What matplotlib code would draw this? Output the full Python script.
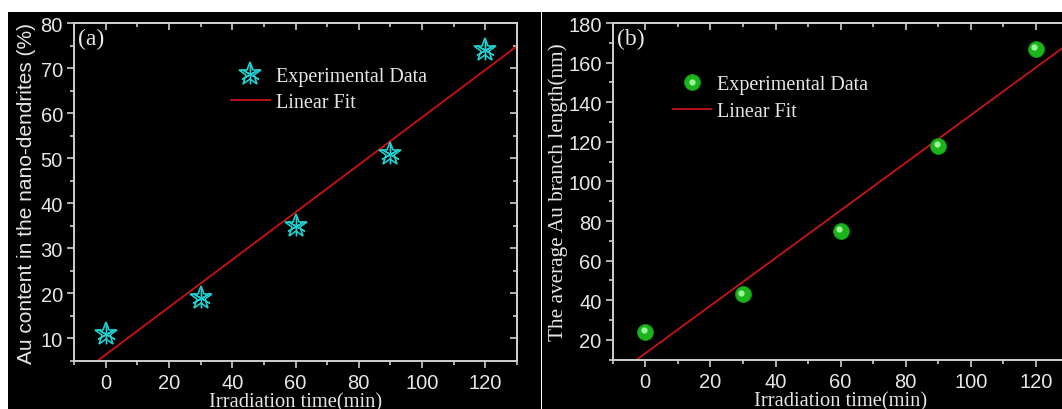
import numpy as np
import matplotlib
matplotlib.use("Agg")
import matplotlib.pyplot as plt
from matplotlib.patches import Rectangle
from matplotlib.ticker import MultipleLocator
from matplotlib.lines import Line2D
from matplotlib.transforms import offset_copy

# ---- data ----
time_min = [0, 30, 60, 90, 120]
au_content = [11, 19, 35, 51, 74]
branch_length = [24, 43, 75, 118, 167]
xticks = [0, 20, 40, 60, 80, 100, 120]

W, H = 1062, 410
fig = plt.figure(figsize=(W / 100, H / 100), dpi=100, facecolor="white")

# black panel backgrounds
for x0, x1 in [(8, 540.5), (541.8, W)]:
    r = Rectangle((x0 / W, 0), (x1 - x0) / W, (H - 13) / H, transform=fig.transFigure,
                  facecolor="black", edgecolor="none", zorder=-10)
    fig.add_artist(r)

SP = "#cfcfcf"
TXT = "#e6e6e6"
SANS = "Liberation Sans"
SERIF = "Liberation Serif"
RED = "#c81414"
CYAN = "#22d0d0"
TICKFS = 14.5


def style(ax, xl, yl, ymaj, ymin):
    ax.set_facecolor("black")
    for s in ax.spines.values():
        s.set_color(SP)
        s.set_linewidth(1.4)
    ax.xaxis.set_major_locator(MultipleLocator(20))
    ax.xaxis.set_minor_locator(MultipleLocator(10))
    ax.yaxis.set_major_locator(MultipleLocator(ymaj))
    ax.yaxis.set_minor_locator(MultipleLocator(ymin))
    ax.set_xlim(*xl)
    ax.set_ylim(*yl)
    ax.tick_params(which="both", direction="out", colors=SP, labelcolor=TXT, width=1.2,
                   labelsize=TICKFS)
    ax.tick_params(axis="x", pad=4)
    ax.tick_params(axis="y", pad=3)
    ax.tick_params(which="major", length=5)
    ax.tick_params(which="minor", length=3)
    for lab in ax.get_xticklabels() + ax.get_yticklabels():
        lab.set_fontfamily(SANS)
    top = ax.secondary_xaxis("top")
    top.xaxis.set_major_locator(MultipleLocator(20))
    top.xaxis.set_minor_locator(MultipleLocator(10))
    top.tick_params(which="both", direction="in", colors=SP, width=1.2, labeltop=False)
    top.tick_params(which="major", length=5)
    top.tick_params(which="minor", length=3)
    top.spines["top"].set_color(SP)
    top.spines["top"].set_linewidth(1.4)
    right = ax.secondary_yaxis("right")
    right.yaxis.set_major_locator(MultipleLocator(ymaj))
    right.yaxis.set_minor_locator(MultipleLocator(ymin))
    right.tick_params(which="both", direction="in", colors=SP, width=1.2, labelright=False)
    right.tick_params(which="major", length=5)
    right.tick_params(which="minor", length=3)
    right.spines["right"].set_color(SP)
    right.spines["right"].set_linewidth(1.4)


# ---- panel (a) ----
ax1 = fig.add_axes([74 / W, (H - 362) / H, (517 - 74) / W, (362 - 24) / H])
style(ax1, (-10, 130), (5, 80), 10, 5)
ax1.set_xticks(xticks)
x = np.array(time_min, dtype=float)
k1, b1 = np.polyfit(x, au_content, 1)
xf = np.array([-10, 130])
ax1.plot(xf, k1 * xf + b1, color=RED, lw=1.3, zorder=2)
ax1.plot(time_min, au_content, linestyle="none", marker="*", ms=17, mfc="none",
         mec=CYAN, mew=1.2, zorder=3)
ax1.plot(time_min, au_content, linestyle="none", marker=(6, 2, 0), ms=14,
         mec=CYAN, mew=1.0, zorder=3)
ax1.set_ylabel("Au content in the nano-dendrites (%)", fontfamily=SANS, fontsize=15,
               color=TXT, labelpad=3)
ax1.set_xlabel("Irradiation time(min)", fontfamily=SERIF, fontsize=14.8, color=TXT, labelpad=0)
ax1.text(0.01, 0.985, "(a)", transform=ax1.transAxes, ha="left", va="top",
         fontfamily=SERIF, fontsize=17, color=TXT)
h1a = Line2D([], [], linestyle="none", marker="*", ms=17, mfc="none", mec=CYAN, mew=1.2)
h1b = Line2D([], [], linestyle="none", marker=(6, 2, 0), ms=14, mec=CYAN, mew=1.0)
h1c = Line2D([], [], color=RED, lw=1.3)
ax1.legend([(h1a, h1b), h1c], ["Experimental Data", "Linear Fit"],
           loc="upper left", bbox_to_anchor=(0.337, 0.895), frameon=False,
           prop={"family": SERIF, "size": 14.5}, labelcolor=TXT,
           handlelength=1.9, handletextpad=0.3, labelspacing=0.38, borderaxespad=0)

# ---- panel (b) ----
ax2 = fig.add_axes([612.7 / W, (H - 360.7) / H, (1068.6 - 612.7) / W, (360.7 - 24) / H])
style(ax2, (-10, 130), (10, 180), 20, 10)
ax2.set_xticks(xticks)
k2, b2 = np.polyfit(x, branch_length, 1)
ax2.plot(xf, k2 * xf + b2, color=RED, lw=1.3, zorder=2)
hl = offset_copy(ax2.transData, fig=fig, x=-1.2, y=1.2, units="points")
ax2.plot(time_min, branch_length, linestyle="none", marker="o", ms=11.5,
         mfc="#1cb41c", mec="#129212", mew=0.6, zorder=3)
ax2.plot(time_min, branch_length, linestyle="none", marker="o", ms=4.5,
         mfc="#9af59a", mec="none", zorder=4, transform=hl)
ax2.set_ylabel("The average Au branch length(nm)", fontfamily=SERIF, fontsize=15.3,
               color=TXT, labelpad=0)
ax2.set_xlabel("Irradiation time(min)", fontfamily=SERIF, fontsize=14.8, color=TXT, labelpad=0)
ax2.text(0.01, 0.985, "(b)", transform=ax2.transAxes, ha="left", va="top",
         fontfamily=SERIF, fontsize=17, color=TXT)
h2a = Line2D([], [], linestyle="none", marker="o", ms=11.5, mfc="#1cb41c", mec="#129212", mew=0.6)
h2b = Line2D([], [], linestyle="none", marker="o", ms=4.5, mfc="#9af59a", mec="none")
h2c = Line2D([], [], color=RED, lw=1.3)
ax2.legend([(h2a, h2b), h2c], ["Experimental Data", "Linear Fit"],
           loc="upper left", bbox_to_anchor=(0.115, 0.87), frameon=False,
           prop={"family": SERIF, "size": 14.5}, labelcolor=TXT,
           handlelength=1.9, handletextpad=0.3, labelspacing=0.38, borderaxespad=0)

fig.savefig("out.png", dpi=100, facecolor="white")
